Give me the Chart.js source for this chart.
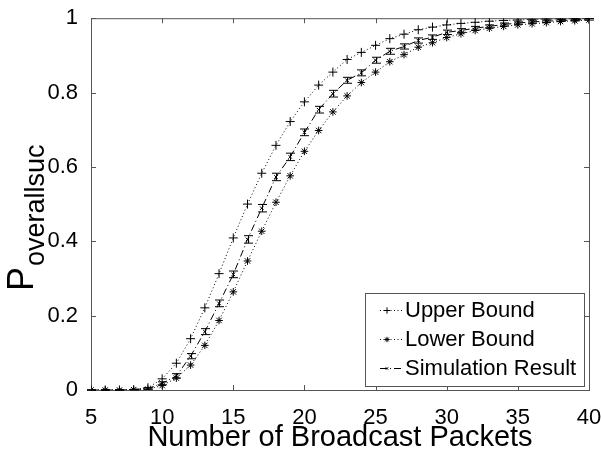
<!DOCTYPE html>
<html>
<head>
<meta charset="utf-8">
<script src="https://cdn.jsdelivr.net/npm/chart.js@4"></script>
<style>
  html, body { margin: 0; padding: 0; background: #fff; }
  canvas { display: block; }
</style>
</head>
<body>
<canvas id="chart" width="601" height="452"></canvas>
<script>
// Data
const packets = [5, 6, 7, 8, 9, 10, 11, 12, 13, 14, 15, 16, 17, 18, 19, 20, 21, 22,
  23, 24, 25, 26, 27, 28, 29, 30, 31, 32, 33, 34, 35, 36, 37, 38, 39, 40];

const upperBound = [0, 0, 0, 0.001, 0.006, 0.03, 0.072, 0.138, 0.221, 0.313, 0.409, 0.5,
  0.583, 0.658, 0.722, 0.775, 0.82, 0.855, 0.889, 0.908, 0.927, 0.945, 0.957, 0.969,
  0.976, 0.982, 0.986, 0.989, 0.992, 0.994, 0.995, 0.997, 0.998, 0.998, 0.999, 0.999];

const lowerBound = [0, 0, 0, 0.001, 0.002, 0.012, 0.032, 0.067, 0.12, 0.187, 0.264, 0.347,
  0.427, 0.505, 0.576, 0.642, 0.698, 0.748, 0.791, 0.827, 0.855, 0.883, 0.902, 0.922,
  0.934, 0.948, 0.958, 0.967, 0.973, 0.978, 0.982, 0.985, 0.988, 0.991, 0.993, 0.995];

const simResult = [0, 0, 0, 0.001, 0.004, 0.018, 0.038, 0.091, 0.157, 0.233, 0.311, 0.405,
  0.489, 0.573, 0.627, 0.693, 0.754, 0.797, 0.833, 0.853, 0.887, 0.911, 0.924, 0.94,
  0.949, 0.962, 0.967, 0.973, 0.978, 0.983, 0.987, 0.99, 0.992, 0.994, 0.995, 0.997];

const simError = [0.001, 0.001, 0.001, 0.001, 0.002, 0.004, 0.006, 0.007, 0.008, 0.009, 0.009, 0.01,
  0.01, 0.01, 0.01, 0.009, 0.009, 0.009, 0.008, 0.008, 0.008, 0.008, 0.007, 0.007,
  0.006, 0.006, 0.005, 0.005, 0.004, 0.004, 0.003, 0.003, 0.003, 0.002, 0.002, 0.002];

const xTicks = [5, 10, 15, 20, 25, 30, 35, 40];
const yTicks = [0, 0.2, 0.4, 0.6, 0.8, 1];

const FONT = 'Liberation Sans, Arial, Helvetica, sans-serif';
const FRAME_COLOR = '#555';

const toPoints = (ys) => packets.map((x, i) => ({ x: x, y: ys[i] }));

// --- PLUGINS ---

// MATLAB style box with inward ticks on all four sides
const framePlugin = {
  id: 'frame',
  beforeDatasetsDraw(chart) {
    const { ctx, chartArea: a, scales } = chart;
    ctx.save();
    ctx.strokeStyle = FRAME_COLOR;
    ctx.lineWidth = 1;
    ctx.strokeRect(a.left + 0.5, a.top + 0.5, a.right - a.left, a.bottom - a.top);
    ctx.beginPath();
    xTicks.forEach(v => {
      const px = Math.round(scales.x.getPixelForValue(v)) + 0.5;
      ctx.moveTo(px, a.bottom); ctx.lineTo(px, a.bottom - 5);
      ctx.moveTo(px, a.top); ctx.lineTo(px, a.top + 5);
    });
    yTicks.forEach(v => {
      const py = Math.round(scales.y.getPixelForValue(v)) + 0.5;
      ctx.moveTo(a.left, py); ctx.lineTo(a.left + 5, py);
      ctx.moveTo(a.right, py); ctx.lineTo(a.right - 5, py);
    });
    ctx.stroke();
    ctx.restore();
  }
};

// Error bars on the simulation series
const errorBarPlugin = {
  id: 'errorBars',
  afterDatasetsDraw(chart) {
    const { ctx, scales } = chart;
    ctx.save();
    ctx.strokeStyle = '#000';
    ctx.lineWidth = 1;
    ctx.beginPath();
    packets.forEach((x, i) => {
      const px = Math.round(scales.x.getPixelForValue(x)) + 0.5;
      const top = scales.y.getPixelForValue(Math.min(simResult[i] + simError[i], 1));
      const bot = scales.y.getPixelForValue(simResult[i] - simError[i]);
      ctx.moveTo(px, top); ctx.lineTo(px, bot);
      ctx.moveTo(px - 4.5, top); ctx.lineTo(px + 4.5, top);
      ctx.moveTo(px - 4.5, bot); ctx.lineTo(px + 4.5, bot);
    });
    ctx.stroke();
    ctx.restore();
  }
};

// Legend box inside the axes (lower right)
const legendPlugin = {
  id: 'boxLegend',
  afterDraw(chart) {
    const { ctx } = chart;
    const box = { left: 365, top: 293, right: 584, bottom: 386 };
    const rows = [310, 339, 368];
    ctx.save();
    ctx.fillStyle = '#fff';
    ctx.fillRect(box.left, box.top, box.right - box.left, box.bottom - box.top);
    ctx.strokeStyle = FRAME_COLOR;
    ctx.lineWidth = 1;
    ctx.strokeRect(box.left + 0.5, box.top + 0.5, box.right - box.left, box.bottom - box.top);

    chart.data.datasets.forEach((ds, i) => {
      const y = rows[i] + 0.5;
      ctx.strokeStyle = ds.borderColor;
      ctx.lineWidth = 1;
      ctx.setLineDash(ds.borderDash || []);
      ctx.beginPath();
      ctx.moveTo(380, y); ctx.lineTo(403, y);
      ctx.stroke();
      ctx.setLineDash([]);
      Chart.helpers.drawPoint(ctx, {
        pointStyle: ds.pointStyle, radius: ds.pointRadius * 0.7, borderWidth: 1, rotation: 0
      }, 387, y);
      ctx.fillStyle = '#000';
      ctx.font = '22px ' + FONT;
      ctx.textBaseline = 'middle';
      ctx.fillText(ds.label, 405, rows[i] + 1);
    });
    ctx.restore();
  }
};

// Y axis label with a subscript
const yLabelPlugin = {
  id: 'yLabel',
  afterDraw(chart) {
    const { ctx } = chart;
    ctx.save();
    ctx.translate(33, 291);
    ctx.rotate(-Math.PI / 2);
    ctx.fillStyle = '#000';
    ctx.textBaseline = 'alphabetic';
    ctx.font = '36px ' + FONT;
    ctx.fillText('P', 0, 0);
    const w = ctx.measureText('P').width;
    ctx.font = '27px ' + FONT;
    ctx.fillText('overallsuc', w + 1, 11);
    ctx.restore();
  }
};

// --- CHART ---

const makeDataset = (label, values, style, radius, dash) => ({
  label: label,
  data: toPoints(values),
  borderColor: '#000',
  backgroundColor: '#000',
  borderWidth: 1,
  borderDash: dash,
  pointStyle: style,
  pointRadius: radius,
  pointBorderWidth: 1,
  pointBorderColor: '#000',
  pointBackgroundColor: '#000',
  tension: 0,
  fill: false
});

new Chart(document.getElementById('chart').getContext('2d'), {
  type: 'line',
  data: {
    datasets: [
      makeDataset('Upper Bound', upperBound, 'cross', 4.5, [1, 2.5]),
      makeDataset('Lower Bound', lowerBound, 'star', 3.8, [1, 2.5]),
      makeDataset('Simulation Result', simResult, 'crossRot', 2.5, [7, 3, 1, 3])
    ]
  },
  options: {
    responsive: false,
    animation: false,
    layout: { padding: { top: 15, right: 0, left: 0, bottom: 0 } },
    plugins: {
      legend: { display: false },
      tooltip: { enabled: false }
    },
    scales: {
      x: {
        type: 'linear',
        min: 5,
        max: 40,
        afterFit: (scale) => { scale.height = 62; scale.paddingRight = 12; },
        afterBuildTicks: (scale) => { scale.ticks = xTicks.map(v => ({ value: v })); },
        grid: { display: false },
        border: { display: false },
        ticks: { color: '#000', padding: 7, font: { family: FONT, size: 22 }, maxRotation: 0 },
        title: {
          display: true,
          text: 'Number of Broadcast Packets',
          color: '#000',
          font: { family: FONT, size: 29, lineHeight: 1 },
          padding: { top: 0, bottom: 0 }
        }
      },
      y: {
        type: 'linear',
        min: 0,
        max: 1,
        afterFit: (scale) => { scale.width = 91; },
        afterBuildTicks: (scale) => { scale.ticks = yTicks.map(v => ({ value: v })); },
        grid: { display: false },
        border: { display: false },
        ticks: {
          color: '#000',
          padding: 5,
          font: { family: FONT, size: 22 },
          callback: (v) => String(Math.round(v * 10) / 10)
        }
      }
    }
  },
  plugins: [framePlugin, errorBarPlugin, legendPlugin, yLabelPlugin]
});
</script>
</body>
</html>
